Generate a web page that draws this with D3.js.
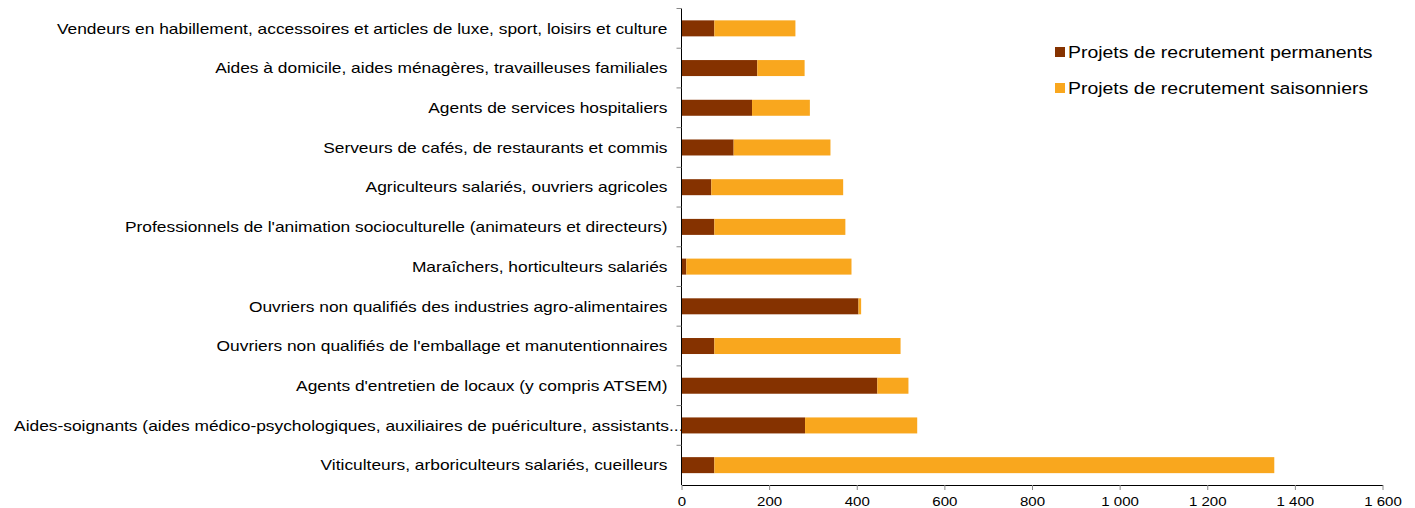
<!DOCTYPE html>
<html>
<head>
<meta charset="utf-8">
<script src="https://cdn.jsdelivr.net/npm/d3@7"></script>
<style>
  body { margin: 0; background: #fff; }
  text { font-family: "Liberation Sans", Arial, sans-serif; fill: #000; }
</style>
</head>
<body>
<div id="container"></div>
<script>
// Metiers (top to bottom)
const categories = [
  "Vendeurs en habillement, accessoires et articles de luxe, sport, loisirs et culture",
  "Aides à domicile, aides ménagères, travailleuses familiales",
  "Agents de services hospitaliers",
  "Serveurs de cafés, de restaurants et commis",
  "Agriculteurs salariés, ouvriers agricoles",
  "Professionnels de l'animation socioculturelle (animateurs et directeurs)",
  "Maraîchers, horticulteurs salariés",
  "Ouvriers non qualifiés des industries agro-alimentaires",
  "Ouvriers non qualifiés de l'emballage et manutentionnaires",
  "Agents d'entretien de locaux (y compris ATSEM)",
  "Aides-soignants (aides médico-psychologiques, auxiliaires de puériculture, assistants...",
  "Viticulteurs, arboriculteurs salariés, cueilleurs"
];
const permanents = [75, 173, 161, 119, 68, 75, 11, 404, 75, 447, 282, 75];
const saisonniers = [185, 108, 132, 221, 301, 299, 377, 6, 425, 71, 256, 1278];
const seriesNames = ["Projets de recrutement permanents", "Projets de recrutement saisonniers"];
const xTicks = [0, 200, 400, 600, 800, 1000, 1200, 1400, 1600];

const width = 1415, height = 508;
const colors = ["#853200", "#F9A71E"];
const stretch = 1.157; // text in the picture is wider than normal

const svg = d3.select("#container").append("svg")
    .attr("width", width)
    .attr("height", height);

const x = d3.scaleLinear().domain([0, 1600]).range([681.5, 1382.5]);
const yb = d3.scaleBand().domain(categories).range([8.5, 485]);

const rows = categories.map((c, i) => ({ cat: c, perm: permanents[i], sais: saisonniers[i] }));

// category labels (drawn first so the long one slides under the axis)
svg.append("g").selectAll("text").data(categories).join("text")
    .attr("transform", (d, i) => {
      const xr = i === 10 ? x(0) + 2 : x(0) - 14;
      return `translate(${xr},${yb(d) + yb.bandwidth() / 2}) scale(${stretch},1)`;
    })
    .attr("dy", "0.35em")
    .attr("text-anchor", "end")
    .attr("font-size", 15)
    .text(d => d);

// stacked bars
svg.append("g").selectAll("rect").data(rows).join("rect")
    .attr("x", x(0))
    .attr("y", d => yb(d.cat) + yb.bandwidth() / 2 - 8)
    .attr("width", d => x(d.perm) - x(0))
    .attr("height", 16)
    .attr("fill", colors[0]);

svg.append("g").selectAll("rect").data(rows).join("rect")
    .attr("x", d => x(d.perm))
    .attr("y", d => yb(d.cat) + yb.bandwidth() / 2 - 8)
    .attr("width", d => x(d.perm + d.sais) - x(d.perm))
    .attr("height", 16)
    .attr("fill", colors[1]);

// x axis
const xAxis = svg.append("g")
    .attr("transform", `translate(0,${485})`)
    .call(d3.axisBottom(x).tickValues(xTicks).tickSize(5).tickSizeOuter(0)
      .tickFormat(d => d3.format(",")(d).replace(",", " ")));
xAxis.select(".domain").attr("stroke", "#000");
xAxis.selectAll(".tick line").attr("stroke", "#888");
xAxis.selectAll("text")
    .attr("font-size", 13)
    .attr("y", 9)
    .attr("dy", "0.95em")
    .attr("transform", `scale(${stretch},1)`)
    .style("font-family", "'Liberation Sans', Arial, sans-serif");

// y axis line and ticks at band edges
svg.append("line")
    .attr("x1", x(0)).attr("x2", x(0))
    .attr("y1", 8.5).attr("y2", 485)
    .attr("stroke", "#000");
svg.append("g").selectAll("line").data(categories).join("line")
    .attr("x1", x(0) - 5).attr("x2", x(0))
    .attr("y1", d => yb(d)).attr("y2", d => yb(d))
    .attr("stroke", "#888");

// legend
const legend = svg.append("g").selectAll("g").data(seriesNames).join("g")
    .attr("transform", (d, i) => `translate(1055,${52 + i * 36})`);
legend.append("rect")
    .attr("x", 0).attr("y", -5).attr("width", 10).attr("height", 10)
    .attr("fill", (d, i) => colors[i]);
legend.append("text")
    .attr("transform", `translate(13,0) scale(${stretch},1)`)
    .attr("dy", "0.35em")
    .attr("font-size", 16.8)
    .text(d => d);
</script>
</body>
</html>
